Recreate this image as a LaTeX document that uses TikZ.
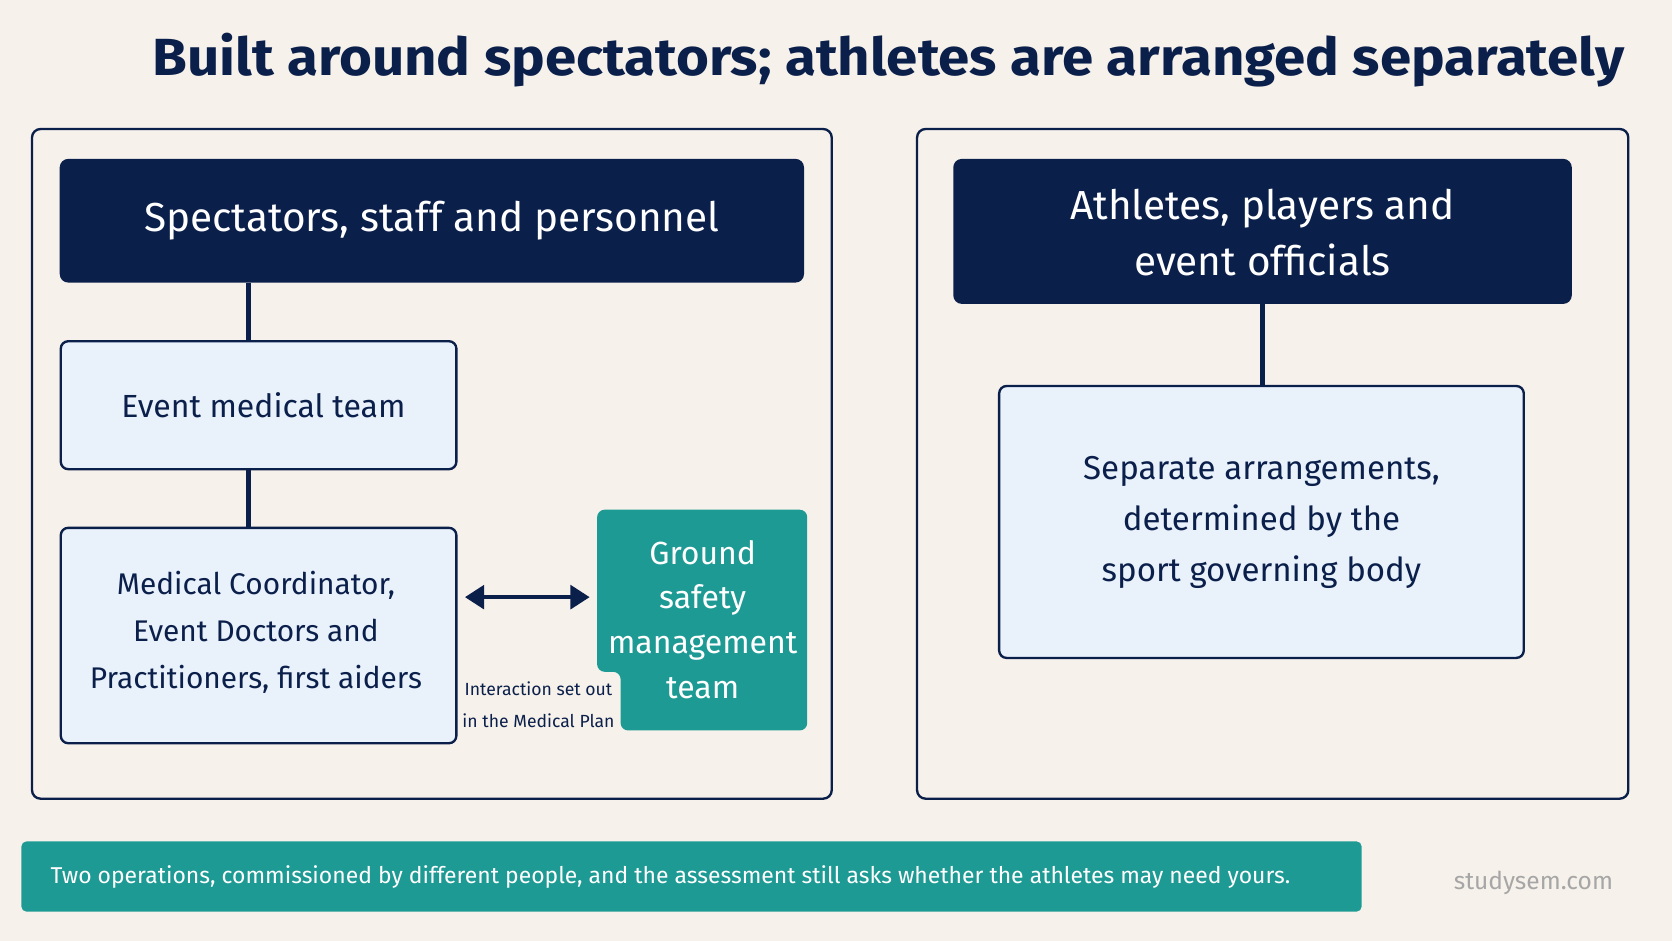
\documentclass[tikz,border=0pt]{standalone}
\usepackage{fontspec}
\setmainfont{Fira Sans}
\usetikzlibrary{arrows.meta}
\definecolor{navy}{HTML}{0B1F4B}
\definecolor{lblue}{HTML}{E9F1FB}
\definecolor{teal}{HTML}{1E9A94}
\definecolor{bg}{HTML}{F6F1EA}
\begin{document}
\begin{tikzpicture}[x=1pt,y=-1pt,
 panel/.style={draw=navy,line width=2.2pt,rounded corners=8pt},
 head/.style={fill=navy,rounded corners=8pt},
 box/.style={draw=navy,fill=lblue,line width=2.2pt,rounded corners=7pt},
 conn/.style={navy,line width=4pt},
 txt/.style={align=center,font=\fontsize{30}{40}\selectfont,text=navy}]
\fill[bg] (0,0) rectangle (1568,882);
\useasboundingbox (0,0) rectangle (1568,882);
\node[font=\fontsize{49}{52}\selectfont\bfseries,text=navy,xscale=1.08] (title) at (833,56) {Built around spectators; athletes are arranged separately};
% left
\draw[panel] (30,121) rectangle (780,749);
\fill[head] (56,149) rectangle (754,265);
\node[txt,text=white,font=\fontsize{38}{46}\selectfont] (h1) at (405,207) {Spectators, staff and personnel};
\draw[box] (57,320) rectangle (428,440);
\node[txt] (emt) at (247,380) {Event medical team};
\draw[box] (57,495) rectangle (428,697);
\node[txt,font=\fontsize{28}{44}\selectfont] (mc) at (240,593) {Medical Coordinator,\\Event Doctors and\\Practitioners, first aiders};
\draw[conn] (233,265) -- (233,320);
\draw[conn] (233,440) -- (233,495);
\fill[teal,rounded corners=7pt] (560,630) -- (560,478) -- (757,478) -- (757,685) -- (582,685) -- (582,630) -- cycle;
\node[txt,text=white,font=\fontsize{30}{42}\selectfont] (gs) at (659,581) {Ground\\safety\\management\\team};
\coordinate (a1) at (436,560); \coordinate (a2) at (553,560);
\draw[navy,line width=4pt,{Triangle[length=18pt,width=22pt]}-{Triangle[length=18pt,width=22pt]}] (a1) -- (a2);
\node[txt,font=\fontsize{16.5}{30}\selectfont] (lab) at (505,661) {Interaction set out\\in the Medical Plan};
% right
\draw[panel] (860,121) rectangle (1527,749);
\fill[head] (894,149) rectangle (1474,285);
\node[txt,text=white,font=\fontsize{38}{52}\selectfont] (h2) at (1184,218) {Athletes, players and\\event officials};
\draw[box] (937,362) rectangle (1429,617);
\node[txt,font=\fontsize{31}{48}\selectfont] (sep) at (1183,490) {Separate arrangements,\\determined by the\\sport governing body};
\draw[conn] (1184,285) -- (1184,362);
% bottom
\fill[teal,rounded corners=5pt] (20,789) rectangle (1277,855);
\node[text=white,font=\fontsize{21.5}{26}\selectfont,anchor=west] (ban) at (44,822) {Two operations, commissioned by different people, and the assessment still asks whether the athletes may need yours.};
\node[text=gray!70,font=\fontsize{23}{26}\selectfont] (ss) at (1438,828) {studysem.com};
\end{tikzpicture}
\end{document}
